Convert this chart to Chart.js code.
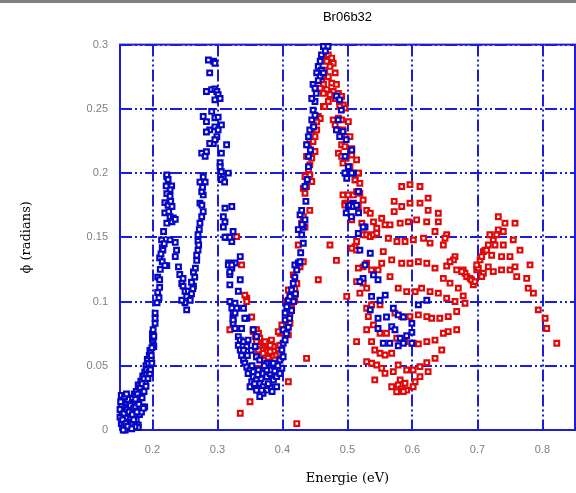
<!DOCTYPE html>
<html>
<head>
<meta charset="utf-8">
<title>Br06b32</title>
<script src="https://cdn.jsdelivr.net/npm/chart.js@4.4.0/dist/chart.umd.min.js"></script>
<style>
  html, body { margin: 0; padding: 0; background: #fff; }
  canvas { display: block; }
</style>
</head>
<body>
<canvas id="chart" width="576" height="493"></canvas>
<script>
// --- tick values / labels ---
const xTicks = [0.2, 0.3, 0.4, 0.5, 0.6, 0.7, 0.8];
const xTickLabels = ["0.2", "0.3", "0.4", "0.5", "0.6", "0.7", "0.8"];
const yTicks = [0, 0.05, 0.1, 0.15, 0.2, 0.25, 0.3];
const yTickLabels = ["0", "0.05", "0.1", "0.15", "0.2", "0.25", "0.3"];

// --- blue series [energie (eV), phi (rad)] ---
const bluePoints = [
  [0.152,0.005],[0.153,0.012],[0.155,0.018],[0.152,0.020],[0.157,0.008],[0.158,0.015],[0.160,0.020],[0.156,0.003],
  [0.162,0.012],[0.163,0.018],[0.165,0.022],[0.167,0.015],[0.168,0.025],[0.170,0.020],[0.172,0.028],[0.173,0.012],
  [0.175,0.030],[0.177,0.022],[0.178,0.035],[0.180,0.028],[0.182,0.038],[0.183,0.030],[0.185,0.042],[0.186,0.035],
  [0.188,0.045],[0.189,0.038],[0.190,0.050],[0.191,0.043],[0.192,0.055],[0.193,0.048],[0.194,0.052],[0.195,0.058],
  [0.196,0.062],[0.166,0.005],[0.170,0.003],[0.175,0.008],[0.178,0.004],[0.180,0.012],[0.185,0.018],[0.158,0.000],
  [0.154,0.025],[0.160,0.010],[0.164,0.006],[0.168,0.005],[0.178,0.002],[0.155,0.000],[0.188,0.018],[0.183,0.014],
  [0.150,0.010],[0.150,0.016],[0.151,0.022],[0.154,0.008],[0.156,0.013],[0.159,0.005],[0.161,0.016],[0.162,0.024],
  [0.164,0.014],[0.166,0.010],[0.166,0.019],[0.169,0.012],[0.171,0.017],[0.171,0.008],[0.174,0.018],[0.174,0.024],
  [0.176,0.014],[0.177,0.028],[0.179,0.020],[0.181,0.025],[0.181,0.033],[0.184,0.025],[0.184,0.036],[0.187,0.030],
  [0.187,0.040],[0.190,0.034],[0.191,0.047],[0.193,0.040],[0.195,0.045],[0.152,0.027],[0.157,0.026],[0.160,0.028],
  [0.162,0.003],[0.186,0.017],[0.173,0.0025],[0.168,0.001],
  [0.196,0.044],[0.197,0.047],[0.198,0.055],[0.199,0.052],[0.201,0.068],[0.200,0.070],[0.202,0.065],[0.200,0.075],
  [0.201,0.078],[0.197,0.060],[0.199,0.064],[0.200,0.072],[0.202,0.073],[0.198,0.058],
  [0.204,0.091],[0.204,0.087],[0.204,0.083],[0.207,0.099],
  [0.208,0.119],[0.211,0.117],[0.211,0.111],[0.208,0.107],[0.210,0.103],[0.215,0.142],[0.216,0.140],[0.211,0.134],
  [0.222,0.128],[0.215,0.131],[0.2295,0.190],[0.227,0.187],[0.222,0.184],[0.227,0.182],[0.219,0.177],[0.224,0.175],
  [0.230,0.174],[0.219,0.169],[0.227,0.166],[0.232,0.165],[0.222,0.161],[0.230,0.162],[0.235,0.164],[0.222,0.197],
  [0.224,0.195],[0.222,0.1986],[0.217,0.1545],[0.214,0.148],[0.219,0.128],
  [0.212,0.125],[0.213,0.137],[0.218,0.145],[0.225,0.170],[0.228,0.178],[0.221,0.190],
  [0.227,0.148],[0.235,0.146],[0.237,0.140],[0.235,0.135],[0.240,0.127],[0.242,0.121],[0.245,0.114],[0.247,0.112],
  [0.250,0.108],[0.2526,0.104],[0.250,0.099],[0.2526,0.0935],[0.245,0.101],[0.247,0.118],[0.255,0.108],[0.258,0.101],
  [0.260,0.106],[0.263,0.112],[0.265,0.119],[0.263,0.123],[0.268,0.132],[0.270,0.140],[0.270,0.147],[0.270,0.152],
  [0.273,0.161],[0.2757,0.166],[0.278,0.170],[0.273,0.1766],[0.278,0.183],[0.2757,0.1856],[0.273,0.193],[0.281,0.193],
  [0.278,0.197],[0.260,0.115],[0.262,0.110],
  [0.266,0.126],[0.268,0.136],[0.271,0.144],[0.272,0.156],[0.276,0.175],[0.277,0.189],
  [0.286,0.288],[0.294,0.287],[0.296,0.2855],[0.288,0.278],[0.283,0.2635],[0.291,0.265],[0.296,0.2655],[0.299,0.2635],
  [0.301,0.261],[0.304,0.258],[0.296,0.257],[0.291,0.248],[0.278,0.244],[0.283,0.240],[0.296,0.243],[0.301,0.2435],
  [0.306,0.2375],[0.296,0.236],[0.288,0.2336],[0.283,0.232],[0.301,0.2336],[0.299,0.2284],[0.2936,0.223],[0.288,0.223],
  [0.296,0.2259],[0.314,0.222],[0.2757,0.2155],[0.283,0.2167],[0.281,0.213],[0.306,0.2155],[0.304,0.208],[0.304,0.205],
  [0.306,0.201],[0.3166,0.200],[0.309,0.197],[0.306,0.195],[0.311,0.193],[0.3115,0.1727],[0.322,0.174],[0.309,0.166],
  [0.3115,0.162],[0.309,0.158],[0.324,0.1545],[0.314,0.150],[0.322,0.1467],[0.3115,0.150],[0.319,0.150],
  [0.335,0.135],[0.327,0.130],[0.317,0.130],[0.322,0.126],[0.319,0.121],[0.335,0.117],[0.319,0.113],[0.332,0.108],
  [0.3166,0.1285],[0.322,0.1285],[0.319,0.123],[0.327,0.0987],[0.3295,0.0948],[0.324,0.0909],[0.324,0.087],[0.324,0.083],
  [0.327,0.079],[0.340,0.0948],[0.345,0.087],[0.337,0.079],[0.319,0.100],[0.322,0.095],[0.342,0.087],[0.327,0.091],
  [0.324,0.0857],
  [0.332,0.0727],[0.335,0.070],[0.340,0.0688],[0.347,0.070],[0.355,0.078],[0.360,0.0727],[0.345,0.065],[0.332,0.066],
  [0.335,0.0623],[0.337,0.058],[0.340,0.0545],[0.342,0.052],[0.345,0.049],[0.350,0.0467],[0.347,0.044],[0.355,0.0415],
  [0.360,0.039],[0.365,0.036],[0.370,0.0337],[0.363,0.031],[0.358,0.0337],[0.3526,0.0376],[0.355,0.0454],[0.363,0.0467],
  [0.370,0.044],[0.3757,0.0415],[0.381,0.044],[0.3757,0.0467],[0.383,0.0467],[0.386,0.039],[0.391,0.0415],[0.396,0.044],
  [0.399,0.048],[0.391,0.0337],[0.381,0.0337],[0.3757,0.031],[0.370,0.0286],[0.365,0.026],[0.360,0.031],[0.350,0.0337],
  [0.360,0.057],[0.365,0.0545],[0.3757,0.052],[0.386,0.052],[0.396,0.0545],[0.401,0.057],[0.399,0.0623],[0.401,0.0675],
  [0.353,0.050],[0.357,0.036],[0.367,0.040],[0.372,0.050],[0.378,0.036],[0.384,0.030],[0.388,0.046],[0.393,0.050],
  [0.368,0.031],[0.362,0.043],[0.346,0.058],[0.352,0.062],[0.358,0.065],[0.340,0.062],
  [0.401,0.078],[0.404,0.0857],[0.404,0.091],[0.4065,0.096],[0.409,0.101],[0.4115,0.104],[0.414,0.109],[0.4165,0.114],
  [0.419,0.119],[0.422,0.1246],[0.419,0.1285],[0.4243,0.130],[0.427,0.131],[0.432,0.1454],[0.4295,0.152],[0.404,0.070],
  [0.406,0.075],[0.409,0.080],[0.411,0.087],[0.414,0.093],[0.417,0.100],[0.420,0.106],[0.427,0.1675],[0.4346,0.1636],
  [0.432,0.158],[0.4243,0.156],[0.4295,0.171],[0.4346,0.1895],[0.440,0.205],[0.440,0.213],[0.437,0.222],[0.440,0.2284],
  [0.442,0.2336],[0.445,0.2414],[0.450,0.245],[0.447,0.249],[0.450,0.2557],[0.445,0.258],[0.447,0.269],[0.450,0.266],
  [0.458,0.287],[0.455,0.283],[0.460,0.280],[0.4526,0.278],[0.458,0.275],[0.463,0.278],[0.463,0.2985],[0.470,0.2985],
  [0.428,0.138],[0.430,0.160],[0.436,0.178],[0.438,0.195],[0.443,0.218],[0.448,0.236],[0.452,0.262],[0.455,0.272],
  [0.460,0.292],[0.466,0.295],
  [0.483,0.260],[0.488,0.257],[0.4905,0.249],[0.4857,0.2414],[0.483,0.2336],[0.488,0.2284],[0.493,0.2323],[0.498,0.226],
  [0.5065,0.218],[0.4962,0.213],[0.5013,0.205],[0.509,0.200],[0.498,0.200],[0.5013,0.174],[0.509,0.1766],[0.517,0.1856],
  [0.498,0.169],[0.506,0.166],[0.517,0.169],[0.496,0.200],[0.5065,0.200],[0.4988,0.196],[0.5166,0.1856],[0.504,0.175],
  [0.509,0.174],[0.514,0.175],[0.527,0.158],[0.524,0.158],
  [0.5166,0.153],[0.519,0.140],[0.535,0.1376],[0.527,0.1285],[0.540,0.1207],[0.547,0.117],[0.524,0.118],[0.519,0.1155],
  [0.537,0.104],[0.550,0.101],[0.558,0.105],[0.535,0.0935],[0.547,0.087],[0.560,0.088],[0.5705,0.0948],[0.578,0.0896],
  [0.568,0.0805],[0.573,0.078],[0.547,0.079],[0.555,0.0675],[0.565,0.0675],[0.578,0.0656],[0.581,0.0714],[0.591,0.0734],
  [0.599,0.076],[0.586,0.0675],[0.599,0.0675],[0.609,0.0974],[0.622,0.101],[0.599,0.083],[0.586,0.088]
];

// --- red series [energie (eV), phi (rad)] ---
const redPoints = [
  [0.3295,0.1505],[0.337,0.1285],[0.345,0.1026],[0.345,0.100],[0.3526,0.088],[0.319,0.078],[0.355,0.078],[0.360,0.078],
  [0.363,0.0753],[0.358,0.0727],[0.365,0.0714],[0.360,0.0688],[0.370,0.0675],[0.378,0.066],[0.383,0.070],[0.386,0.065],
  [0.363,0.065],[0.368,0.0623],[0.3757,0.061],[0.381,0.061],[0.373,0.058],[0.378,0.0558],[0.386,0.057],[0.391,0.058],
  [0.3935,0.0623],[0.396,0.066],[0.399,0.057],[0.391,0.052],[0.381,0.053],[0.365,0.0467],[0.360,0.057],[0.396,0.0753],
  [0.401,0.078],[0.4065,0.0805],[0.409,0.0857],[0.4115,0.091],[0.414,0.096],[0.4166,0.101],[0.4115,0.104],[0.4065,0.100],
  [0.414,0.1065],[0.419,0.110],[0.422,0.114],[0.4166,0.1207],[0.422,0.126],[0.427,0.127],[0.432,0.131],[0.4243,0.144],
  [0.409,0.0376],[0.350,0.022],[0.335,0.013],[0.422,0.005],[0.437,0.0558],[0.455,0.117],[0.409,0.109],[0.419,0.101],
  [0.4115,0.0948],[0.399,0.0818],[0.404,0.078],[0.3935,0.0766],[0.4115,0.083],[0.409,0.074],[0.342,0.105],[0.355,0.0766],
  [0.373,0.0688],[0.381,0.066],[0.388,0.0545],[0.370,0.0597],[0.363,0.0623],[0.396,0.0597],[0.365,0.048],
  [0.4705,0.292],[0.4757,0.2895],[0.468,0.287],[0.478,0.2855],[0.473,0.283],[0.465,0.280],[0.481,0.278],[0.4705,0.275],
  [0.4603,0.2726],[0.4757,0.270],[0.463,0.269],[0.483,0.269],[0.458,0.266],[0.468,0.265],[0.478,0.2635],[0.486,0.262],
  [0.463,0.262],[0.473,0.261],[0.481,0.258],[0.491,0.2596],[0.488,0.2557],[0.4935,0.253],[0.4705,0.2557],[0.463,0.2518],
  [0.465,0.2518],[0.496,0.2505],[0.488,0.2518],
  [0.455,0.244],[0.458,0.2425],[0.4526,0.2398],[0.4474,0.2375],[0.4526,0.2336],[0.445,0.231],[0.450,0.2284],[0.442,0.226],
  [0.447,0.2245],[0.440,0.222],[0.450,0.2168],[0.437,0.213],[0.445,0.2116],[0.442,0.2064],[0.440,0.2025],[0.442,0.1986],
  [0.4346,0.1973],[0.445,0.1934],[0.437,0.1895],[0.432,0.1882],[0.4346,0.1843],[0.442,0.171],[0.432,0.166],[0.4295,0.161],
  [0.4346,0.158],
  [0.478,0.2414],[0.486,0.2427],[0.481,0.2375],[0.491,0.2414],[0.5013,0.240],[0.486,0.2336],[0.493,0.2336],[0.498,0.2284],
  [0.5038,0.2284],[0.491,0.222],[0.496,0.2206],[0.5065,0.219],[0.486,0.2155],[0.491,0.213],[0.498,0.2116],[0.5065,0.214],
  [0.514,0.2103],[0.493,0.2077],[0.5038,0.205],[0.498,0.200],[0.517,0.200],[0.512,0.1947],[0.519,0.192],[0.493,0.183],
  [0.501,0.183],[0.509,0.183],[0.496,0.1766],[0.519,0.1843],[0.524,0.179],[0.5295,0.171],[0.535,0.1687],[0.522,0.161],
  [0.5065,0.1636],[0.5166,0.200],[0.5115,0.1947],[0.514,0.1856],[0.496,0.175],[0.501,0.1766],[0.5166,0.174],[0.540,0.162],
  [0.545,0.157],[0.524,0.152],[0.5295,0.152],[0.535,0.1505],[0.540,0.152],[0.545,0.1532],[0.514,0.1467],[0.5115,0.1427],
  [0.5065,0.1415],[0.514,0.140],[0.483,0.132],[0.4988,0.104],[0.473,0.144],
  [0.5834,0.1895],[0.5961,0.191],[0.6115,0.1895],[0.5718,0.178],[0.5834,0.174],[0.5961,0.1766],[0.6115,0.1766],[0.624,0.1805],
  [0.5718,0.170],[0.624,0.171],[0.6397,0.1687],[0.5526,0.1648],[0.5577,0.1597],[0.5654,0.1597],[0.581,0.161],[0.5936,0.162],
  [0.6064,0.1636],[0.6218,0.162],[0.6397,0.162],[0.6346,0.1545],[0.6526,0.152],[0.650,0.1493],[0.6474,0.144],[0.627,0.1455],
  [0.617,0.1493],[0.6013,0.148],[0.5885,0.1467],[0.576,0.1467],[0.5628,0.1493],
  [0.555,0.1389],[0.568,0.1324],[0.5834,0.1298],[0.5961,0.1298],[0.609,0.131],[0.622,0.1298],[0.6346,0.126],[0.6526,0.1277],
  [0.6654,0.135],[0.663,0.1324],[0.6577,0.131],[0.6474,0.118],[0.6577,0.1143],[0.6705,0.1104],[0.678,0.1246],[0.6808,0.122],
  [0.6834,0.1194],[0.6885,0.118],[0.6935,0.113],[0.691,0.1168],[0.696,0.1155],[0.6988,0.1246],[0.7013,0.126],[0.6988,0.1285],
  [0.704,0.1324],[0.7064,0.135],[0.709,0.1389],[0.7115,0.140],[0.7166,0.144],[0.7243,0.148],[0.7295,0.152],[0.719,0.152],
  [0.732,0.1558],[0.7397,0.1545],[0.732,0.166],[0.7423,0.161],[0.7577,0.161],[0.755,0.148],[0.7397,0.144],[0.727,0.144],
  [0.714,0.140],[0.7218,0.136],[0.7166,0.127],[0.7243,0.1233],[0.737,0.1246],[0.750,0.1246],[0.7577,0.127],[0.7603,0.1194],
  [0.7757,0.118],[0.7808,0.1285],[0.7654,0.140],[0.750,0.135],[0.737,0.135],[0.709,0.122],[0.7064,0.1194],[0.6757,0.1233],
  [0.668,0.1246],
  [0.778,0.1104],[0.786,0.1065],[0.7935,0.0935],[0.804,0.087],[0.8065,0.079],[0.822,0.0675],
  [0.5295,0.1298],[0.524,0.127],[0.5166,0.126],[0.547,0.1246],[0.537,0.1246],[0.5526,0.1298],[0.5654,0.1194],[0.514,0.1155],
  [0.524,0.1143],[0.5295,0.1104],[0.519,0.1065],[0.578,0.1104],[0.591,0.1077],[0.604,0.1077],[0.614,0.1104],[0.627,0.1077],
  [0.6397,0.1065],[0.6526,0.1026],[0.6654,0.100],[0.678,0.1044],[0.6808,0.0987],[0.668,0.0922],[0.655,0.0883],[0.642,0.087],
  [0.6295,0.087],[0.622,0.0883],[0.609,0.0896],[0.596,0.0883],[0.5834,0.0883],[0.573,0.091],[0.5295,0.0948],[0.537,0.0974],
  [0.550,0.0974],[0.532,0.0883],[0.540,0.0818],[0.5295,0.078],[0.550,0.0753],[0.560,0.0753],[0.5757,0.0714],[0.5885,0.0688],
  [0.601,0.0675],[0.609,0.067],[0.622,0.0688],[0.6346,0.070],[0.6474,0.0753],[0.655,0.0766],[0.668,0.078],[0.514,0.0688],
  [0.537,0.0688],[0.542,0.0623],[0.550,0.0597],[0.5577,0.0584],[0.568,0.0597],[0.578,0.0506],[0.591,0.0467],[0.601,0.0467],
  [0.6115,0.0493],[0.622,0.0524],[0.6346,0.0558],[0.645,0.0623],[0.5295,0.0532],[0.537,0.052],[0.545,0.0506],[0.5526,0.048],
  [0.5577,0.0441],[0.5705,0.0454],[0.581,0.039],[0.5885,0.0364],[0.591,0.031],[0.5757,0.0298],[0.568,0.0337],[0.542,0.039],
  [0.604,0.0376],[0.601,0.0337],[0.6115,0.0415],[0.624,0.0454],[0.578,0.035],[0.583,0.032],[0.586,0.030]
];

const blue = "#0606c8";
const red = "#e00808";
const gridBlue = "#1c1cdc";

// cadre complet + bande grise en haut
const framePlugin = {
  id: "frame",
  beforeDraw(chart) {
    const c = chart.ctx;
    c.save();
    c.fillStyle = "#808080";
    c.fillRect(0, 0, chart.width, 3);
    c.restore();
  },
  beforeDatasetsDraw(chart) {
    const { left, top, right, bottom } = chart.chartArea;
    const c = chart.ctx;
    c.save();
    c.strokeStyle = gridBlue;
    c.lineWidth = 2;
    c.strokeRect(left, top, right - left, bottom - top);
    c.restore();
  },
};

const pointStyle = (color) => ({
  pointStyle: "rect",
  pointRadius: 3.3,
  pointBorderWidth: 2.2,
  pointBorderColor: color,
  pointBackgroundColor: "#ffffff",
  showLine: false,
  clip: 4,
});

new Chart(document.getElementById("chart"), {
  type: "scatter",
  data: {
    datasets: [
      { label: "bleu", data: bluePoints.map(([x, y]) => ({ x, y })), ...pointStyle(blue) },
      { label: "rouge", data: redPoints.map(([x, y]) => ({ x, y })), ...pointStyle(red) },
    ],
  },
  options: {
    responsive: false,
    animation: false,
    layout: { autoPadding: false, padding: { left: 0, right: 1, top: 0, bottom: 0 } },
    plugins: {
      legend: { display: false },
      tooltip: { enabled: false },
      title: {
        display: true,
        fullSize: false,
        text: "Br06b32",
        color: "#000",
        font: { family: "Liberation Sans", size: 13, weight: "normal" },
        padding: { top: 10, bottom: 19 },
      },
    },
    scales: {
      x: {
        type: "linear",
        min: 0.15,
        max: 0.85,
        afterBuildTicks: (s) => { s.ticks = xTicks.map((v) => ({ value: v })); },
        afterFit: (s) => { s.height = 63; s.paddingLeft = 0; s.paddingRight = 0; },
        ticks: {
          callback: (v, i) => xTickLabels[i],
          color: "#808080",
          font: { family: "Liberation Sans", size: 11 },
          padding: 13,
          maxRotation: 0,
        },
        grid: { color: gridBlue, lineWidth: 2, drawTicks: false },
        border: { display: false, dash: [12, 3, 2, 3, 2, 3] },
        title: {
          display: true,
          text: "Energie (eV)",
          color: "#000",
          font: { family: "DejaVu Serif", size: 13 },
          padding: { top: 0, bottom: 7 },
        },
      },
      y: {
        type: "linear",
        min: 0,
        max: 0.3,
        afterBuildTicks: (s) => { s.ticks = yTicks.map((v) => ({ value: v })); },
        afterFit: (s) => { s.width = 120; },
        ticks: {
          callback: (v, i) => yTickLabels[i],
          color: "#808080",
          font: { family: "Liberation Sans", size: 11 },
          padding: 12,
        },
        grid: { color: gridBlue, lineWidth: 2, drawTicks: false },
        border: { display: false, dash: [12, 3, 2, 3, 2, 3] },
        title: {
          display: true,
          text: "ϕ (radians)",
          color: "#000",
          font: { family: "DejaVu Serif", size: 13 },
          padding: { top: 19, bottom: 0 },
        },
      },
    },
  },
  plugins: [framePlugin],
});
</script>
</body>
</html>
